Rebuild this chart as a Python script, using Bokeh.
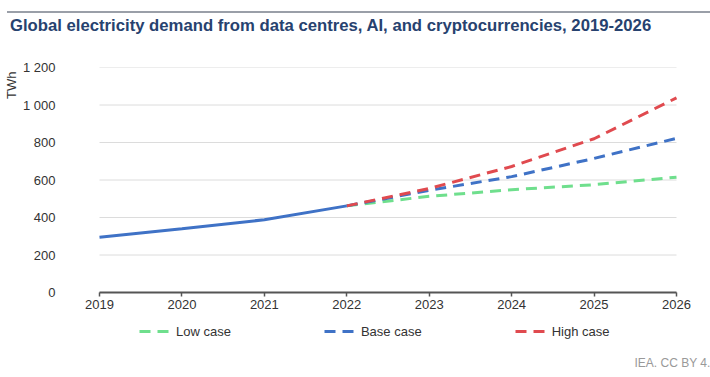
from bokeh.plotting import figure
from bokeh.models import Legend, LegendItem, FixedTicker, Title, Div
from bokeh.layouts import column
from bokeh.embed import file_html
from bokeh.resources import INLINE

# ---- data ----
years_hist = [2019, 2020, 2021, 2022]
hist_twh = [295, 340, 388, 462]
years_proj = [2022, 2023, 2024, 2025, 2026]
low_case = [462, 513, 548, 575, 615]
base_case = [462, 545, 618, 715, 822]
high_case = [462, 555, 672, 820, 1038]
x_ticks = [2019, 2020, 2021, 2022, 2023, 2024, 2025, 2026]
y_ticks = [0, 200, 400, 600, 800, 1000, 1200]
y_tick_labels = ["0", "200", "400", "600", "800", "1 000", "1 200"]

title_text = "Global electricity demand from data centres, AI, and cryptocurrencies, 2019-2026"
FONT = "Liberation Sans"
GREEN = "#6fdf8d"
BLUE = "#3f72c6"
RED = "#e04a4f"
TXT = "#333333"

# frame geometry: 577 px for 2019..2026, 16 px spare on each side for the end tick labels
PLOT_W = 577
PAD_PX = 16
PX_PER_YEAR = PLOT_W / (x_ticks[-1] - x_ticks[0])
EXT = PAD_PX / PX_PER_YEAR
# 225 px for 0..1200, plus 55 px below zero to hold the legend
FRAME_H = 280
Y_MIN = -1200 * (FRAME_H - 225) / 225

p = figure(width=710, height=331, frame_width=PLOT_W + 2 * PAD_PX, frame_height=FRAME_H,
           x_range=(x_ticks[0] - EXT, x_ticks[-1] + EXT), y_range=(Y_MIN, 1200),
           x_axis_location="above",
           output_backend="svg", toolbar_location=None,
           min_border_left=68, min_border_right=33, min_border_top=23, min_border_bottom=28)
p.title.text = ""
p.outline_line_color = None
p.background_fill_color = "white"
p.border_fill_color = "white"

# x axis drawn at y = 0, spanning 2019..2026
p.xaxis.fixed_location = 0
p.xaxis.bounds = (x_ticks[0], x_ticks[-1])
p.xaxis.ticker = FixedTicker(ticks=x_ticks)
p.xaxis.axis_line_color = "#555555"
p.xaxis.axis_line_width = 2
p.xaxis.major_tick_line_color = "#555555"
p.xaxis.major_tick_line_width = 1.5
p.xaxis.major_tick_in = 4
p.xaxis.major_tick_out = 0
p.xaxis.minor_tick_line_color = None
p.xaxis.major_label_standoff = -16
p.xaxis.major_label_text_font = FONT
p.xaxis.major_label_text_font_size = "13px"
p.xaxis.major_label_text_color = TXT

p.yaxis.ticker = FixedTicker(ticks=y_ticks)
p.yaxis.major_label_overrides = {t: l for t, l in zip(y_ticks, y_tick_labels)}
p.yaxis.axis_line_color = None
p.yaxis.major_tick_line_color = None
p.yaxis.major_tick_in = 0
p.yaxis.major_tick_out = 0
p.yaxis.minor_tick_line_color = None
p.yaxis.major_label_standoff = 12 + PAD_PX
p.yaxis.major_label_text_font = FONT
p.yaxis.major_label_text_font_size = "13px"
p.yaxis.major_label_text_color = TXT

p.xgrid.grid_line_color = None
p.ygrid.grid_line_color = None

# horizontal grid lines at the y ticks, from 2019 to 2026
p.segment(x0=x_ticks[0], x1=x_ticks[-1], y0=y_ticks, y1=y_ticks,
          line_color="#dcdcdc", line_width=1)

# lines
dash = "11 7"
r_low = p.line(years_proj, low_case, line_color=GREEN, line_width=3, line_dash=dash)
r_base = p.line(years_proj, base_case, line_color=BLUE, line_width=3, line_dash=dash)
r_high = p.line(years_proj, high_case, line_color=RED, line_width=3, line_dash=dash)
p.line(years_hist, hist_twh, line_color=BLUE, line_width=3)

legend = Legend(items=[LegendItem(label="Low case", renderers=[r_low]),
                       LegendItem(label="Base case", renderers=[r_base]),
                       LegendItem(label="High case", renderers=[r_high])],
                orientation="horizontal", location=(56, 6),
                glyph_width=30, glyph_height=20, label_standoff=7, spacing=93,
                padding=5, margin=0, border_line_color=None, background_fill_alpha=0,
                label_text_font=FONT, label_text_font_size="13px", label_text_color=TXT)
p.add_layout(legend, "center")

p.add_layout(Title(text="IEA. CC BY 4.0.", align="right", offset=-28, standoff=12,
                   text_font=FONT, text_font_size="12px", text_font_style="normal",
                   text_color="#999999"), "below")

p.add_layout(Title(text="TWh", align="right", offset=4, standoff=2,
                   text_font=FONT, text_font_size="13px", text_font_style="normal",
                   text_color=TXT), "left")

head_html = (
    '<div style="position:relative;width:710px;height:44px;">'
    '<div style="position:absolute;left:7px;top:11px;width:703px;height:2px;background:#9a9fa8;"></div>'
    '<div style="position:absolute;left:10px;top:16px;white-space:nowrap;line-height:19px;'
    "font-family:'Liberation Sans',Arial,sans-serif;font-weight:bold;font-size:16.7px;color:#27426f;\">"
    + title_text + '</div></div>'
)
head = Div(text=head_html, width=710, height=44, margin=(0, 0, 0, 0))

layout = column(head, p, spacing=0)
open("out.html", "w").write(file_html(layout, INLINE))
